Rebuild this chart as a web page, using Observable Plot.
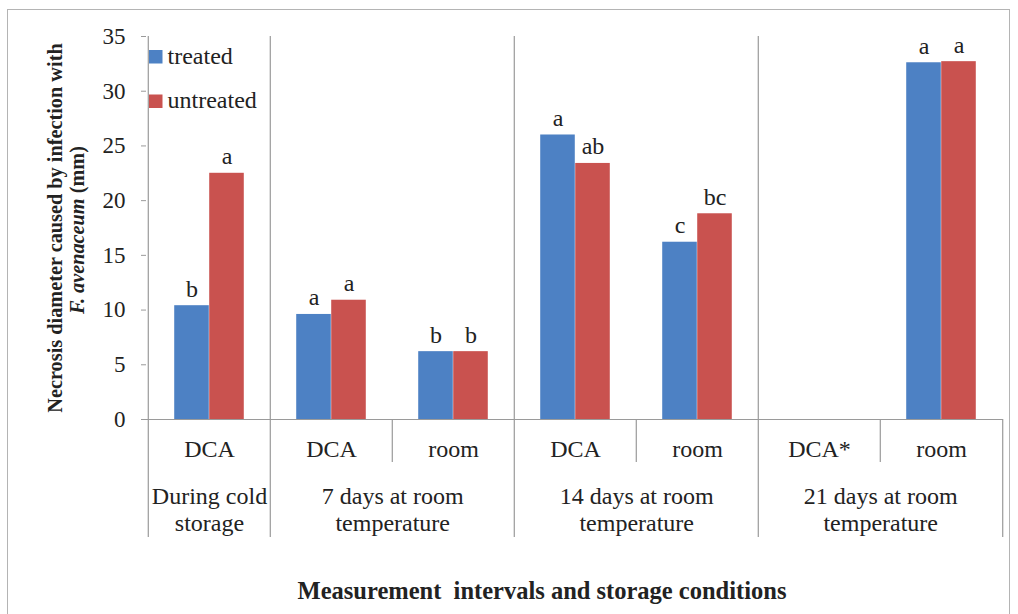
<!DOCTYPE html>
<html>
<head>
<meta charset="utf-8">
<script src="https://cdn.jsdelivr.net/npm/d3@7"></script>
<script src="https://cdn.jsdelivr.net/npm/@observablehq/plot@0.6"></script>
<style>
  html, body { margin: 0; padding: 0; background: #fff; }
  #wrap { position: relative; width: 1018px; height: 614px; overflow: hidden; }
  #border { position: absolute; left: 7px; top: 9px; width: 1003px; height: 640px; border: 1.5px solid #b4b4b4; box-sizing: border-box; }
  #chart { position: absolute; left: 0; top: 0; }
  #chart text { font-family: 'Liberation Serif', serif; }
</style>
</head>
<body>
<div id="wrap"><div id="border"></div><div id="chart"></div></div>
<script>
// ---- data ----
const categories = ["DCA", "DCA", "room", "DCA", "room", "DCA*", "room"];
const treated = [10.4, 9.6, 6.2, 26.0, 16.2, null, 32.6];
const untreated = [22.5, 10.9, 6.2, 23.4, 18.8, null, 32.7];
const treatedLetters = ["b", "a", "b", "a", "c", "", "a"];
const untreatedLetters = ["a", "a", "b", "ab", "bc", "", "a"];
const groupLabels = ["During cold\nstorage", "7 days at room\ntemperature", "14 days at room\ntemperature", "21 days at room\ntemperature"];
const groupStart = [0, 1, 3, 5];
const groupSize = [1, 2, 2, 2];
const innerSeparators = [2, 4, 6];
const seriesNames = ["treated", "untreated"];
const yTicks = [0, 5, 10, 15, 20, 25, 30, 35];

// ---- layout / style ----
const W = 1018, H = 614;
const mL = 146, mR = 15, mT = 36, mB = 195;
const bw = (W - mL - mR) / categories.length;
const barW = 35;
const outer = (bw - 2 * barW) / 2;
const BLUE = "#4d81c4", RED = "#c9524f", LINE = "#9a9a9a", TXT = "#222";
const FONT = "Liberation Serif";

const idx = d3.range(categories.length);
const rowsT = idx.filter(i => treated[i] != null).map(i => ({i, value: treated[i], letter: treatedLetters[i]}));
const rowsU = idx.filter(i => untreated[i] != null).map(i => ({i, value: untreated[i], letter: untreatedLetters[i]}));
const groups = groupLabels.map((label, k) => ({label, start: groupStart[k], size: groupSize[k]}));
const txt = {fontFamily: FONT, fill: TXT};

const chart = Plot.plot({
  width: W, height: H,
  marginLeft: mL, marginRight: mR, marginTop: mT, marginBottom: mB,
  style: {fontFamily: "'Liberation Serif', serif", color: TXT, background: "transparent", overflow: "visible"},
  x: {domain: idx, padding: 0, axis: null},
  y: {domain: [0, 35], axis: null},
  marks: [
    // group boundaries (incl. the y axis line), extended below the axis
    Plot.ruleX(groupStart, {x: d => d, dx: -bw / 2, stroke: LINE, strokeWidth: 1.2, insetBottom: -118}),
    Plot.ruleX([idx[idx.length - 1]], {x: d => d, dx: bw / 2, stroke: LINE, strokeWidth: 1.2, insetTop: H - mT - mB, insetBottom: -118}),
    // inner category separators below the axis
    Plot.ruleX(innerSeparators, {x: d => d, dx: -bw / 2, stroke: LINE, strokeWidth: 1.2, insetTop: H - mT - mB, insetBottom: -43}),
    // bars
    Plot.barY(rowsT, {x: "i", y: "value", fill: BLUE, insetLeft: outer, insetRight: outer + barW}),
    Plot.barY(rowsU, {x: "i", y: "value", fill: RED, insetLeft: outer + barW, insetRight: outer}),
    Plot.ruleY([0], {stroke: LINE, strokeWidth: 1.2}),
    // significance letters
    Plot.text(rowsT, {x: "i", y: "value", text: "letter", dx: -barW / 2, dy: -9, lineAnchor: "bottom", fontSize: 24, ...txt}),
    Plot.text(rowsU, {x: "i", y: "value", text: "letter", dx: barW / 2, dy: -9, lineAnchor: "bottom", fontSize: 24, ...txt}),
    // y axis
    Plot.axisY({ticks: yTicks, tickSize: 5, tickPadding: 16, fontSize: 23, label: null, stroke: LINE, ...txt}),
    // x axis (categories)
    Plot.axisX({tickSize: 0, tickPadding: 20, fontSize: 24, label: null, tickFormat: i => categories[i], ...txt}),
    // group labels
    Plot.text(groups.filter(g => g.size === 1), {x: "start", text: "label", frameAnchor: "bottom", lineAnchor: "top", dy: 66, lineHeight: 1.1, fontSize: 24, ...txt}),
    Plot.text(groups.filter(g => g.size === 2), {x: "start", text: "label", frameAnchor: "bottom", lineAnchor: "top", dx: bw / 2, dy: 66, lineHeight: 1.1, fontSize: 24, ...txt}),
    // x title
    Plot.text(["Measurement  intervals and storage conditions"], {frameAnchor: "bottom", lineAnchor: "bottom", dx: -33, dy: 179, fontSize: 24.5, fontWeight: "bold", text: d => d, ...txt}),
    // legend
    Plot.frame({fill: BLUE, stroke: "none", insetLeft: 2.5, insetRight: (W - mL - mR) - 16, insetTop: 13.5, insetBottom: (H - mT - mB) - 27}),
    Plot.frame({fill: RED, stroke: "none", insetLeft: 2.5, insetRight: (W - mL - mR) - 16, insetTop: 58, insetBottom: (H - mT - mB) - 71.5}),
    Plot.text([seriesNames[0]], {text: d => d, frameAnchor: "top-left", textAnchor: "start", lineAnchor: "bottom", dx: 21, dy: 27.3, fontSize: 24, ...txt}),
    Plot.text([seriesNames[1]], {text: d => d, frameAnchor: "top-left", textAnchor: "start", lineAnchor: "bottom", dx: 21, dy: 71, fontSize: 24, ...txt})
  ]
});

// y title with mixed styling (real text, tspans)
const svg = d3.select(chart);
svg.append("text")
  .attr("transform", "translate(62,228) rotate(-90)")
  .attr("text-anchor", "middle")
  .attr("font-family", FONT).attr("font-size", 20.3).attr("font-weight", "bold").attr("fill", TXT)
  .text("Necrosis diameter caused by infection with");
const t2 = svg.append("text")
  .attr("transform", "translate(84,230) rotate(-90)")
  .attr("text-anchor", "middle")
  .attr("font-family", FONT).attr("font-size", 20.3).attr("font-weight", "bold").attr("fill", TXT);
t2.append("tspan").attr("font-style", "italic").text("F. avenaceum");
t2.append("tspan").text(" (mm)");

document.getElementById("chart").appendChild(chart);
</script>
</body>
</html>
